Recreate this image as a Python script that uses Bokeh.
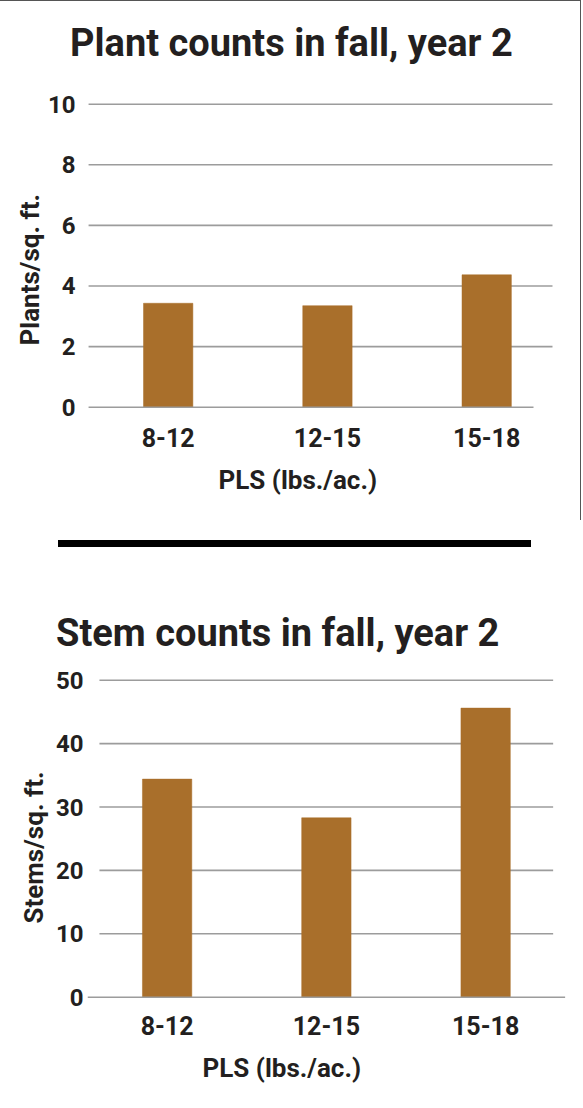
from bokeh.plotting import figure
from bokeh.models import Range1d, FixedTicker, Title, Div
from bokeh.layouts import column
from bokeh.embed import file_html
from bokeh.resources import INLINE

# ---- data ----
categories = ["8-12", "12-15", "15-18"]
plants_per_sqft = [3.43, 3.35, 4.37]
stems_per_sqft = [34.4, 28.3, 45.6]
plant_ticks = [0, 2, 4, 6, 8, 10]
stem_ticks = [0, 10, 20, 30, 40, 50]
plant_title = "Plant counts in fall, year 2"
stem_title = "Stem counts in fall, year 2"
plant_ylabel = "Plants/sq. ft."
stem_ylabel = "Stems/sq. ft."
x_label = "PLS (lbs./ac.)"

FONT = "Roboto"
INK = "#231f20"
BAR = "#a96f2b"
GRID = "#9c9c9c"


def chart(values, ticks, title, ylabel, width, height, borders, xr, yr,
          grid_x, zero_x, title_pos, ylabel_pos, xlabel_pos, xstandoff, ystandoff):
    xs = list(range(1, len(categories) + 1))
    top, right, bottom, left = borders
    p = figure(width=width, height=height,
               x_range=Range1d(*xr), y_range=Range1d(*yr),
               toolbar_location=None, output_backend="svg",
               min_border_top=top, min_border_right=right,
               min_border_bottom=bottom, min_border_left=left)
    p.outline_line_color = None
    p.xgrid.visible = False
    p.ygrid.visible = False

    gt = ticks[1:]
    p.segment(x0=[grid_x[0]] * len(gt), y0=gt, x1=[grid_x[1]] * len(gt), y1=gt,
              line_color=GRID, line_width=1.6)
    p.vbar(x=xs, top=values, width=0.31, bottom=0,
           fill_color=BAR, line_color=BAR, line_width=0.5)
    p.segment(x0=[zero_x[0]], y0=[ticks[0]], x1=[zero_x[1]], y1=[ticks[0]],
              line_color=GRID, line_width=1.6)

    xa = p.xaxis[0]
    xa.ticker = FixedTicker(ticks=xs)
    xa.major_label_overrides = {x: c for x, c in zip(xs, categories)}
    xa.axis_line_color = None
    xa.major_tick_line_color = None
    xa.minor_tick_line_color = None
    xa.major_label_text_font = FONT
    xa.major_label_text_font_style = "bold"
    xa.major_label_text_font_size = "25px"
    xa.major_label_text_color = INK
    xa.major_label_standoff = xstandoff

    ya = p.yaxis[0]
    ya.ticker = FixedTicker(ticks=ticks)
    ya.axis_line_color = None
    ya.major_tick_line_color = None
    ya.minor_tick_line_color = None
    ya.major_label_text_font = FONT
    ya.major_label_text_font_style = "bold"
    ya.major_label_text_font_size = "24px"
    ya.major_label_text_color = INK
    ya.major_label_standoff = ystandoff

    p.add_layout(Title(text=title, align="left", offset=title_pos[0],
                       standoff=title_pos[1], vertical_align="bottom",
                       text_font=FONT, text_font_style="bold",
                       text_font_size="38px", text_color=INK), "above")
    p.add_layout(Title(text=x_label, align="left", offset=xlabel_pos[0],
                       standoff=xlabel_pos[1], vertical_align="top",
                       text_font=FONT, text_font_style="bold",
                       text_font_size="26px", text_color=INK), "below")
    p.add_layout(Title(text=ylabel, align="left", offset=ylabel_pos[0],
                       standoff=ylabel_pos[1], vertical_align="bottom",
                       text_font=FONT, text_font_style="bold",
                       text_font_size="26px", text_color=INK), "left")
    return p


p1 = chart(plants_per_sqft, plant_ticks, plant_title, plant_ylabel,
           width=581, height=520, borders=(70, 16, 110, 87),
           xr=(0.4933, 3.4949), yr=(-0.142, 11.079),
           grid_x=(0.5, 3.4132), zero_x=(0.5, 3.294),
           title_pos=(-17.5, 13), ylabel_pos=(66, 0),
           xlabel_pos=(131, 30), xstandoff=10, ystandoff=6)
p1.styles = {"border-right": "1px solid #555555", "border-top": "1px solid #555555"}

sep = Div(text="", width=473, height=7, margin=(20, 0, 12, 58),
          styles={"background-color": "#000000"})

p2 = chart(stems_per_sqft, stem_ticks, stem_title, stem_ylabel,
           width=581, height=540, borders=(110, 16, 100, 87),
           xr=(0.5, 3.5016), yr=(-0.363, 51.69),
           grid_x=(0.575, 3.424), zero_x=(0.5, 3.5),
           title_pos=(-31.5, 29), ylabel_pos=(76, 7),
           xlabel_pos=(115, 30), xstandoff=10, ystandoff=-2)

layout = column(p1, sep, p2)

open("out.html", "w").write(file_html(layout, INLINE))
